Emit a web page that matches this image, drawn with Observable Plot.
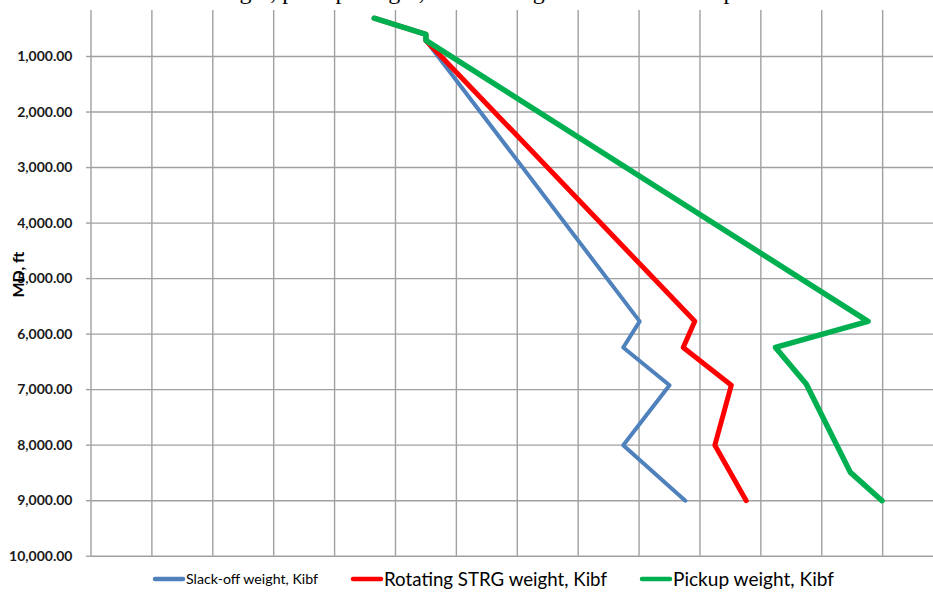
<!DOCTYPE html>
<html>
<head>
<meta charset="utf-8">
<script src="https://cdn.jsdelivr.net/npm/d3@7"></script>
<script src="https://cdn.jsdelivr.net/npm/@observablehq/plot@0.6"></script>
<style>
  html, body { margin: 0; padding: 0; background: #fff; }
  #wrap { position: relative; width: 933px; height: 601px; overflow: hidden; background: #fff; }
  #title { position: absolute; top: -22px; left: 110px; white-space: nowrap;
           font: 24px "Liberation Serif", serif; line-height: 26px; color: #000; z-index: 2; }
  #chart { position: absolute; top: 0; left: 0; }
  #legend { position: absolute; top: 561px; left: 0; }
</style>
</head>
<body>
<div id="wrap">
  <div id="title">Slack-off weight, pickup weight, STRG weight vs. measured depth</div>
  <div id="chart"></div>
  <svg id="legend" width="933" height="40"></svg>
</div>
<script>
// ---- data ----
const seriesNames = ["Slack-off weight, Kibf", "Rotating STRG weight, Kibf", "Pickup weight, Kibf"];
const seriesColors = ["#4F81BD", "#FF0000", "#00B050"];

const mdSlack = [310, 600, 710, 5770, 6240, 6920, 8000, 9000];
const slackOff = [93, 110, 110, 180.2, 174.8, 190.0, 174.8, 195.2];

const mdRotating = [310, 600, 710, 5770, 6240, 6920, 8000, 9000];
const rotating = [93, 110, 110, 198.3, 194.5, 210.3, 204.9, 215.2];

const mdPickup = [310, 600, 710, 5770, 6240, 6900, 8490, 9000];
const pickup = [93, 110, 110, 255.2, 224.8, 234.9, 249.4, 259.8];

const yTicks = [1000, 2000, 3000, 4000, 5000, 6000, 7000, 8000, 9000, 10000];
const xGrid = [0, 20, 40, 60, 80, 100, 120, 140, 160, 180, 200, 220, 240, 260];
const yLabel = "MD, ft";

// ---- build tables ----
const toRows = (md, w) => md.map((d, i) => ({md: d, w: w[i]}));
const slackRows = toRows(mdSlack, slackOff);
const rotRows = toRows(mdRotating, rotating);
const pickRows = toRows(mdPickup, pickup);

const gridColor = "#a0a0a0";
const fmt = d3.format(",.2f");

const chart = Plot.plot({
  width: 933,
  height: 565,
  marginLeft: 90.5,
  marginRight: 0,
  marginTop: 0.5,
  marginBottom: 9.3,
  x: {domain: [0, 276.7], axis: null},
  y: {domain: [0, 10000], reverse: true, axis: null},
  style: {background: "transparent", fontFamily: "Lato, sans-serif", fontSize: "14px", fontWeight: "bold", color: "#1a1a1a", overflow: "visible"},
  marks: [
    Plot.ruleX(xGrid, {y1: 171, y2: 10000, stroke: gridColor, strokeWidth: 1.4}),
    Plot.gridY(yTicks, {stroke: gridColor, strokeOpacity: 1, strokeWidth: 1.4}),
    Plot.axisY(yTicks, {tickSize: 4.5, tickPadding: 14, stroke: gridColor, strokeWidth: 1.4, fill: "#1a1a1a",
      tickFormat: fmt, fontSize: 14, fontWeight: "bold", fontFamily: "Lato, sans-serif", label: null}),
    Plot.text([yLabel], {frameAnchor: "left", textAnchor: "middle", dx: -72, dy: -4, rotate: -90,
      fontSize: 16, fontWeight: "bold", fill: "#000"}),
    Plot.line(slackRows, {x: "w", y: "md", stroke: seriesColors[0], strokeWidth: 4, strokeLinejoin: "round", strokeLinecap: "round"}),
    Plot.line(rotRows, {x: "w", y: "md", stroke: seriesColors[1], strokeWidth: 5, strokeLinejoin: "round", strokeLinecap: "round"}),
    Plot.line(pickRows, {x: "w", y: "md", stroke: seriesColors[2], strokeWidth: 5.5, strokeLinejoin: "round", strokeLinecap: "round"})
  ]
});
document.getElementById("chart").appendChild(chart);

// ---- legend ----
const legendItems = [
  {x: 153, len: 132, size: 13},
  {x: 351, len: 223, size: 19},
  {x: 640, len: 161, size: 19}
];
const leg = d3.select("#legend");
legendItems.forEach((it, i) => {
  leg.append("line").attr("x1", it.x + 2).attr("x2", it.x + 30).attr("y1", 18).attr("y2", 18)
    .attr("stroke", seriesColors[i]).attr("stroke-width", 4.5).attr("stroke-linecap", "round");
  leg.append("text").attr("x", it.x + 33).attr("y", 18).attr("dy", "0.35em")
    .attr("font-family", "Lato, sans-serif").attr("font-size", it.size).attr("fill", "#000")
    .attr("textLength", it.len).attr("lengthAdjust", "spacingAndGlyphs")
    .text(seriesNames[i]);
});
</script>
</body>
</html>
